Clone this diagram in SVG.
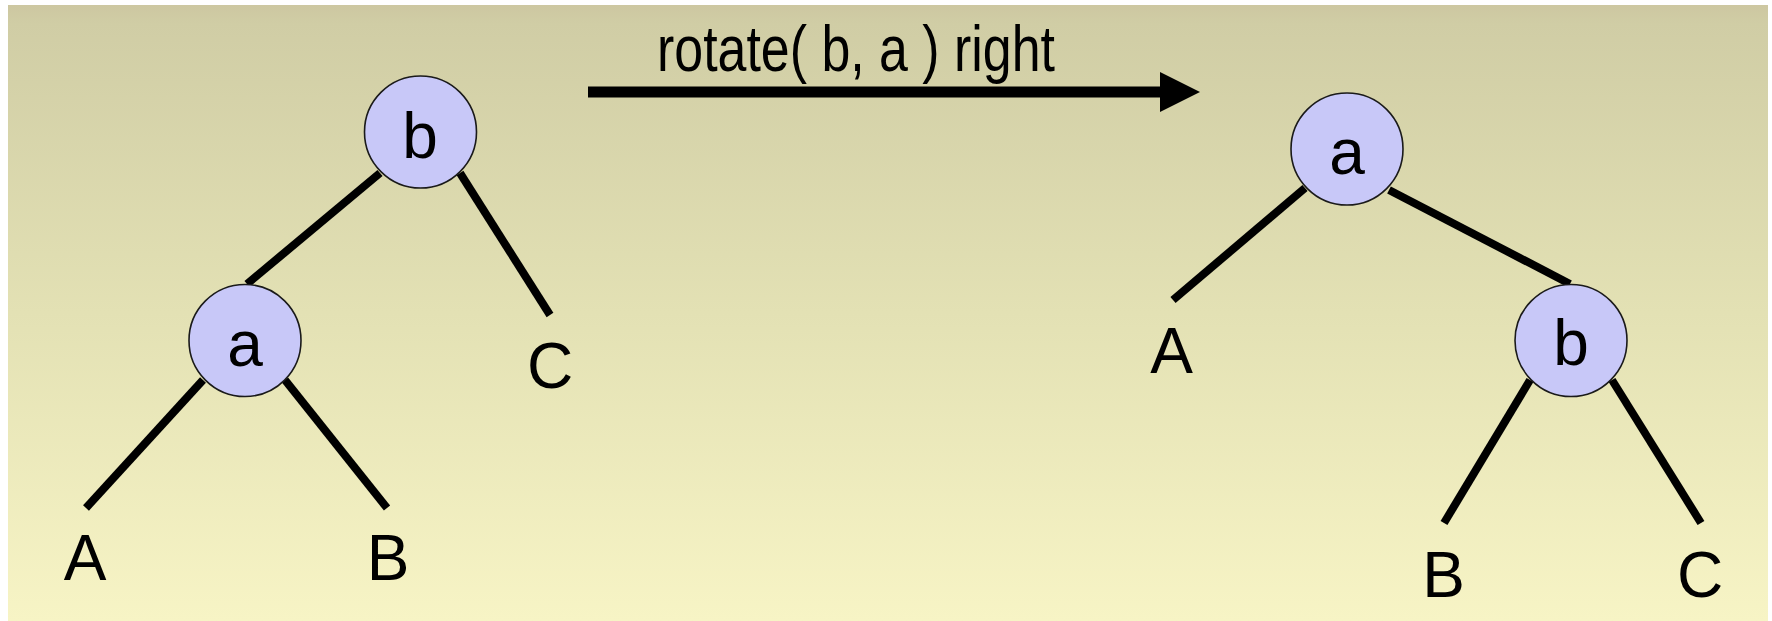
<svg xmlns="http://www.w3.org/2000/svg" width="1772" height="621" viewBox="0 0 1772 621">
  <defs>
    <linearGradient id="bg" x1="0" y1="0" x2="0" y2="1">
      <stop offset="0" stop-color="#cdc7a1"/>
      <stop offset="0.03" stop-color="#d0cda5"/>
      <stop offset="0.5" stop-color="#e3e1b4"/>
      <stop offset="1" stop-color="#f7f4c5"/>
    </linearGradient>
    <marker id="arrowhead" markerUnits="userSpaceOnUse" markerWidth="40" markerHeight="40" viewBox="0 0 36 36" refX="0" refY="18" orient="auto">
      <path d="M0,0 L36,18 L0,36 Z" fill="#000"/>
    </marker>
  </defs>
  <style>
    .node circle { fill: #c8c8f8; stroke: #1a1a1a; stroke-width: 1.6; }
    .lbl { font-family: "Liberation Sans", Arial, sans-serif; font-size: 64px; fill: #000; text-anchor: middle; }
    .edge { stroke: #000; stroke-width: 8; stroke-linecap: butt; fill: none; }
  </style>
  <rect x="8" y="5" width="1760" height="616" fill="url(#bg)"/>

  <g id="connectors">
    <line class="edge" x1="380" y1="173" x2="247" y2="284"/>
    <line class="edge" x1="460" y1="173" x2="550" y2="315"/>
    <line class="edge" x1="203" y1="380" x2="86" y2="508"/>
    <line class="edge" x1="285" y1="380" x2="387" y2="508"/>
    <line class="edge" x1="1305" y1="188" x2="1173" y2="300"/>
    <line class="edge" x1="1389" y1="190" x2="1570" y2="284"/>
    <line class="edge" x1="1530" y1="380" x2="1444" y2="523"/>
    <line class="edge" x1="1612" y1="380" x2="1701" y2="523"/>
    <line id="rotate-arrow" x1="588" y1="92" x2="1160" y2="92" stroke="#000" stroke-width="11" marker-end="url(#arrowhead)"/>
  </g>

  <g id="title">
    <text class="lbl" x="856" y="71" font-size="66" textLength="398" lengthAdjust="spacingAndGlyphs">rotate( b, a ) right</text>
  </g>

  <g id="left-b" class="node">
    <circle cx="420.5" cy="132" r="56"/>
    <text class="lbl" x="420" y="158">b</text>
  </g>
  <g id="left-a" class="node">
    <circle cx="245" cy="340.5" r="56"/>
    <text class="lbl" x="245" y="366">a</text>
  </g>
  <g id="left-A"><text class="lbl" x="85" y="580">A</text></g>
  <g id="left-B"><text class="lbl" x="388" y="580">B</text></g>
  <g id="left-C"><text class="lbl" x="550" y="388">C</text></g>

  <g id="right-a" class="node">
    <circle cx="1347" cy="149" r="56"/>
    <text class="lbl" x="1347" y="174">a</text>
  </g>
  <g id="right-b" class="node">
    <circle cx="1571" cy="340.5" r="56"/>
    <text class="lbl" x="1571" y="365">b</text>
  </g>
  <g id="right-A"><text class="lbl" x="1171.5" y="373">A</text></g>
  <g id="right-B"><text class="lbl" x="1443.5" y="597">B</text></g>
  <g id="right-C"><text class="lbl" x="1700" y="597">C</text></g>
</svg>
